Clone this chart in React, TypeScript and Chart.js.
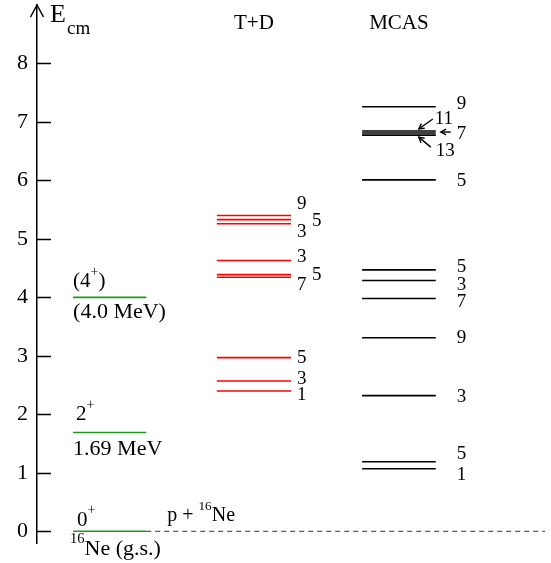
import React, { useEffect, useRef } from "react";
import { Chart, registerables } from "chart.js";

Chart.register(...registerables);

// ---------- data ----------
const yTicks = [0, 1, 2, 3, 4, 5, 6, 7, 8];

const expEnergies = [0, 1.69, 4.0];
const expSpinLabels = ["0⁺", "2⁺", "(4⁺)"];
const expEnergyLabels = ["¹⁶Ne (g.s.)", "1.69 MeV", "(4.0 MeV)"];

const tdEnergies = [5.4, 5.33, 5.26, 4.63, 4.39, 4.345, 2.97, 2.57, 2.4];
const tdSpins = ["9", "5", "3", "3", "5", "7", "5", "3", "1"];

const mcasEnergies = [7.26, 6.845, 6.81, 6.775, 6.01, 4.47, 4.29, 3.98, 3.31, 2.32, 1.19, 1.07];
const mcasSpins = ["9", "11", "7", "13", "5", "5", "3", "7", "9", "3", "5", "1"];

const columnTitles = ["T+D", "MCAS"];
const thresholdLabel = "p + ¹⁶Ne";
const axisTitle = ["E", "cm"];

// ---------- layout / style (not data) ----------
const FONT = "'Liberation Serif', 'DejaVu Serif', serif";
const EXP_X = [7.1, 21.5];
const TD_X = [35.4, 50];
const MCAS_X = [64, 78.5];
const GREEN = "#1f9a1f";
const RED = "#ff0000";
const BLACK = "#000000";

// label offsets in pixels relative to right end of level (dx) and level y (dy)
const tdDx = [6, 21, 6, 6, 21, 6, 6, 6, 6];
const tdDy = [-12, 1, 8, -4, 0, 8, 0, -2, 4];
const mcasDx = [21, -1, 21, 0, 21, 21, 21, 21, 21, 21, 21, 21];
const mcasDy = [-3, -12, 1, 16, 1, -3, 5, 3, 0, 1, -8, 6];
// arrows (for crowded MCAS levels): index, head(dx,dy), tail(dx,dy) relative to level right end
const mcasArrows = [
  { i: 1, head: [-17, -2], tail: [-3, -12] },
  { i: 2, head: [5, -1], tail: [15, -1] },
  { i: 3, head: [-17, 2], tail: [-5, 12] },
];
const expUpDx = [4, 3, 0];
const expUpDy = [-11, -18, -16];
const expDownDx = [-3, 0, 0];
const expDownDy = [18, 17, 15];

const SUP: Record<string, string> = { "⁺": "+", "¹": "1", "⁶": "6" };

function drawRich(ctx: CanvasRenderingContext2D, text: string, x: number, y: number, size: number, align: "left" | "center" = "left") {
  const segs: { t: string; sup: boolean }[] = [];
  for (const ch of text) {
    const sup = ch in SUP;
    const c = sup ? SUP[ch] : ch;
    const last = segs[segs.length - 1];
    if (last && last.sup === sup) last.t += c;
    else segs.push({ t: c, sup });
  }
  const supSize = size * 0.66;
  let total = 0;
  for (const s of segs) {
    ctx.font = `${s.sup ? supSize : size}px ${FONT}`;
    total += ctx.measureText(s.t).width;
  }
  let cx = align === "center" ? x - total / 2 : x;
  ctx.textAlign = "left";
  ctx.textBaseline = "middle";
  for (const s of segs) {
    ctx.font = `${s.sup ? supSize : size}px ${FONT}`;
    ctx.fillText(s.t, cx, s.sup ? y - size * 0.45 : y);
    cx += ctx.measureText(s.t).width;
  }
}

function levelDatasets(energies: number[], xs: number[], color: string) {
  return energies.map((e) => ({
    data: [
      { x: xs[0], y: e },
      { x: xs[1], y: e },
    ],
    borderColor: color,
    borderWidth: 1.6,
    pointRadius: 0,
    fill: false,
  }));
}

const annotations = {
  id: "levelAnnotations",
  afterDatasetsDraw(chart: any) {
    const { ctx, chartArea, scales } = chart;
    const xs = scales.x;
    const ys = scales.y;
    const axisX = chartArea.left;
    ctx.save();
    ctx.fillStyle = "#000";
    ctx.strokeStyle = "#000";

    // inward ticks
    ctx.lineWidth = 1.5;
    for (const v of yTicks) {
      const py = Math.round(ys.getPixelForValue(v)) + 0.5;
      ctx.beginPath();
      ctx.moveTo(axisX, py);
      ctx.lineTo(axisX + 14, py);
      ctx.stroke();
    }
    // axis arrow head
    ctx.beginPath();
    ctx.moveTo(axisX - 6.5, chartArea.top + 12);
    ctx.lineTo(axisX, chartArea.top);
    ctx.lineTo(axisX + 6.5, chartArea.top + 12);
    ctx.stroke();

    // axis title
    ctx.textAlign = "left";
    ctx.textBaseline = "middle";
    ctx.font = `26px ${FONT}`;
    ctx.fillText(axisTitle[0], axisX + 13, chartArea.top + 10);
    ctx.font = `19px ${FONT}`;
    ctx.fillText(axisTitle[1], axisX + 30, chartArea.top + 24);

    // column titles
    const tdC = (xs.getPixelForValue(TD_X[0]) + xs.getPixelForValue(TD_X[1])) / 2;
    const mcC = (xs.getPixelForValue(MCAS_X[0]) + xs.getPixelForValue(MCAS_X[1])) / 2;
    ctx.font = `21px ${FONT}`;
    ctx.textAlign = "center";
    ctx.fillText(columnTitles[0], tdC, chartArea.top + 18);
    ctx.fillText(columnTitles[1], mcC, chartArea.top + 18);

    // experimental labels
    const expL = xs.getPixelForValue(EXP_X[0]);
    const expR = xs.getPixelForValue(EXP_X[1]);
    expEnergies.forEach((e, i) => {
      const py = ys.getPixelForValue(e);
      drawRich(ctx, expSpinLabels[i], expL + expUpDx[i], py + expUpDy[i], 21);
      drawRich(ctx, expEnergyLabels[i], expL + expDownDx[i], py + expDownDy[i], 22);
    });
    drawRich(ctx, thresholdLabel, expR + 21, ys.getPixelForValue(0) - 15.5, 20);

    // T+D labels
    const tdR = xs.getPixelForValue(TD_X[1]);
    tdEnergies.forEach((e, i) => {
      drawRich(ctx, tdSpins[i], tdR + tdDx[i], ys.getPixelForValue(e) + tdDy[i], 19);
    });

    // MCAS labels
    const mcR = xs.getPixelForValue(MCAS_X[1]);
    mcasEnergies.forEach((e, i) => {
      drawRich(ctx, mcasSpins[i], mcR + mcasDx[i], ys.getPixelForValue(e) + mcasDy[i], 19);
    });

    // arrows
    ctx.lineWidth = 1.4;
    for (const a of mcasArrows) {
      const py = ys.getPixelForValue(mcasEnergies[a.i]);
      const hx = mcR + a.head[0], hy = py + a.head[1];
      const tx = mcR + a.tail[0], ty = py + a.tail[1];
      const ang = Math.atan2(hy - ty, hx - tx);
      ctx.beginPath();
      ctx.moveTo(tx, ty);
      ctx.lineTo(hx, hy);
      ctx.stroke();
      ctx.beginPath();
      ctx.moveTo(hx - 6 * Math.cos(ang - 0.5), hy - 6 * Math.sin(ang - 0.5));
      ctx.lineTo(hx, hy);
      ctx.lineTo(hx - 6 * Math.cos(ang + 0.5), hy - 6 * Math.sin(ang + 0.5));
      ctx.stroke();
    }
    ctx.restore();
  },
};

export default function App() {
  const ref = useRef<HTMLCanvasElement | null>(null);
  useEffect(() => {
    if (!ref.current) return;
    const datasets: any[] = [
      ...levelDatasets(expEnergies, EXP_X, GREEN),
      ...levelDatasets(tdEnergies, TD_X, RED),
      ...levelDatasets(mcasEnergies, MCAS_X, BLACK),
      {
        data: [
          { x: EXP_X[1], y: 0 },
          { x: 100, y: 0 },
        ],
        borderColor: "#333",
        borderWidth: 1,
        borderDash: [5, 4],
        pointRadius: 0,
        fill: false,
      },
    ];
    const chart = new Chart(ref.current, {
      type: "line",
      data: { datasets },
      options: {
        animation: false,
        responsive: false,
        events: [],
        layout: { padding: { top: 5, bottom: 20, right: 6, left: 0 } },
        plugins: { legend: { display: false }, tooltip: { enabled: false } },
        scales: {
          x: { type: "linear", min: 0, max: 100, display: false },
          y: {
            type: "linear",
            min: -0.2,
            max: 9.0,
            position: "left",
            afterBuildTicks: (s: any) => {
              s.ticks = yTicks.map((v) => ({ value: v }));
            },
            afterFit: (s: any) => {
              s.width = 37;
              s.paddingTop = 0;
              s.paddingBottom = 0;
            },
            grid: { display: false, drawTicks: false },
            border: { display: true, color: "#000", width: 1.5 },
            ticks: {
              color: "#000",
              padding: 9,
              font: { family: FONT, size: 22, lineHeight: 0.4 },
            },
          },
        },
      },
      plugins: [annotations],
    });
    return () => chart.destroy();
  }, []);
  return (
    <div style={{ position: "absolute", left: 0, top: 0, width: 551, height: 563, background: "#fff" }}>
      <canvas ref={ref} width={551} height={563} style={{ display: "block" }} />
    </div>
  );
}
